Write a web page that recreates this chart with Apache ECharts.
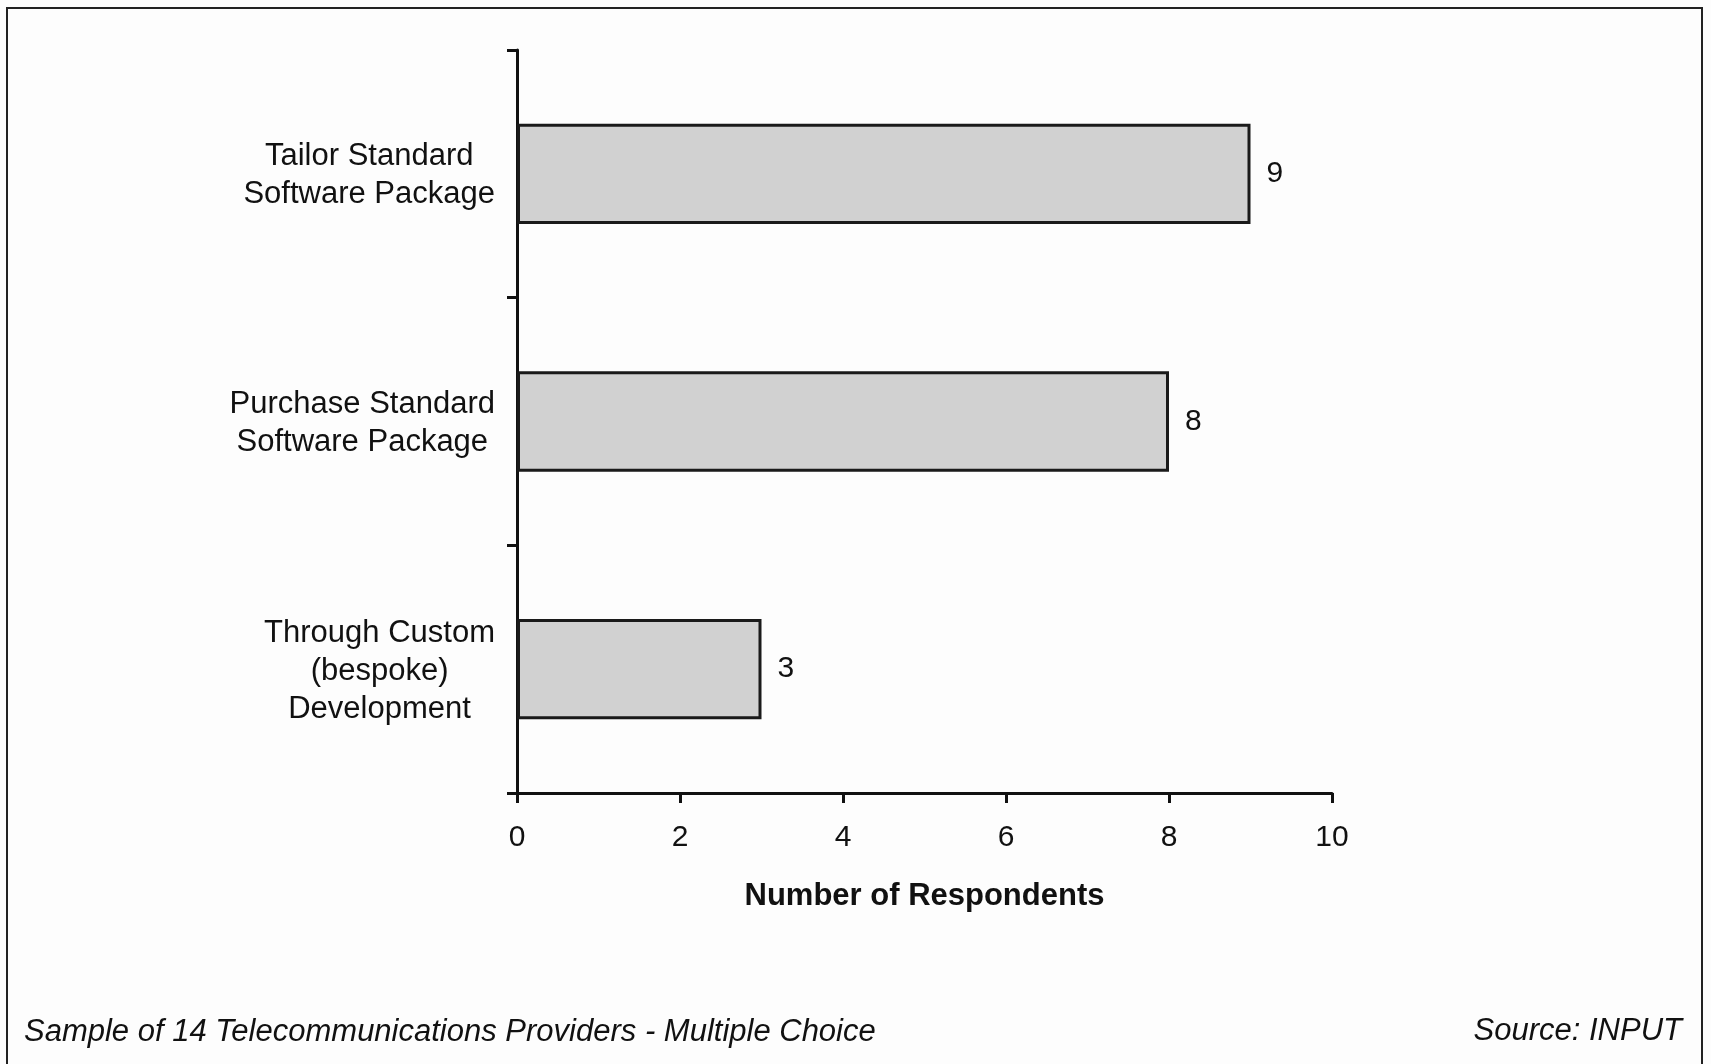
<!DOCTYPE html>
<html>
<head>
<meta charset="utf-8">
<script src="https://cdn.jsdelivr.net/npm/echarts@6/dist/echarts.min.js"></script>
<style>
  html, body { margin: 0; padding: 0; background: #fdfdfd; }
  #chart { width: 1711px; height: 1064px; }
</style>
</head>
<body>
<div id="chart"></div>
<script>
// categories top to bottom
const categories = [
  'Tailor Standard\nSoftware Package',
  'Purchase Standard\nSoftware Package',
  'Through Custom\n(bespoke)\nDevelopment'
]
const respondents = [9, 8, 3]
const xTicks = [0, 2, 4, 6, 8, 10]

const axisName = 'Number of Respondents'
const footNote = 'Sample of 14 Telecommunications Providers - Multiple Choice'
const source = 'Source: INPUT'

const font = '"Liberation Sans", Arial, sans-serif'

const myChart = echarts.init(document.getElementById('chart'))

const option = {
  backgroundColor: '#fdfdfd',
  animation: false,
  grid: {
    left: 517,
    right: 379,
    top: 50,
    bottom: 271
  },
  title: [
    {
      text: footNote,
      left: 19,
      top: 1012,
      textStyle: { fontFamily: font, fontSize: 31, fontWeight: 'normal', fontStyle: 'italic', color: '#111' }
    },
    {
      text: source,
      right: 24,
      top: 1011,
      textStyle: { fontFamily: font, fontSize: 31, fontWeight: 'normal', fontStyle: 'italic', color: '#111' }
    }
  ],
  xAxis: {
    type: 'value',
    min: xTicks[0],
    max: xTicks[xTicks.length - 1],
    interval: 2,
    name: axisName,
    nameLocation: 'middle',
    nameGap: 88,
    nameTextStyle: { fontFamily: font, fontSize: 31, fontWeight: 'bold', color: '#111' },
    axisLine: { show: true, lineStyle: { color: '#111', width: 3 } },
    axisTick: { show: true, length: 10, lineStyle: { color: '#111', width: 3 } },
    axisLabel: { margin: 30, fontFamily: font, fontSize: 30, color: '#111' },
    splitLine: { show: false }
  },
  yAxis: {
    type: 'category',
    inverse: true,
    data: categories,
    axisLine: { show: true, lineStyle: { color: '#111', width: 3 } },
    axisTick: { show: true, length: 10, lineStyle: { color: '#111', width: 3 } },
    axisLabel: {
      margin: 22,
      padding: [4, 0, 0, 0],
      formatter: function (value) {
        return value.split('\n').map(function (s) { return '{c|' + s + '}' }).join('\n')
      },
      rich: {
        c: { align: 'center', fontFamily: font, fontSize: 31, lineHeight: 38, color: '#111' }
      }
    }
  },
  series: [
    {
      type: 'bar',
      data: respondents,
      barCategoryGap: '59.5%',
      itemStyle: {
        color: '#d1d1d1',
        borderColor: '#1a1a1a',
        borderWidth: 3
      },
      label: {
        show: true,
        position: 'right',
        distance: 16,
        fontFamily: font,
        fontSize: 30,
        color: '#111'
      }
    }
  ],
  graphic: [
    {
      type: 'rect',
      shape: { x: 7, y: 8, width: 1695, height: 1080 },
      style: { fill: null, stroke: '#222', lineWidth: 2 },
      silent: true
    }
  ]
}

myChart.setOption(option)
</script>
</body>
</html>
